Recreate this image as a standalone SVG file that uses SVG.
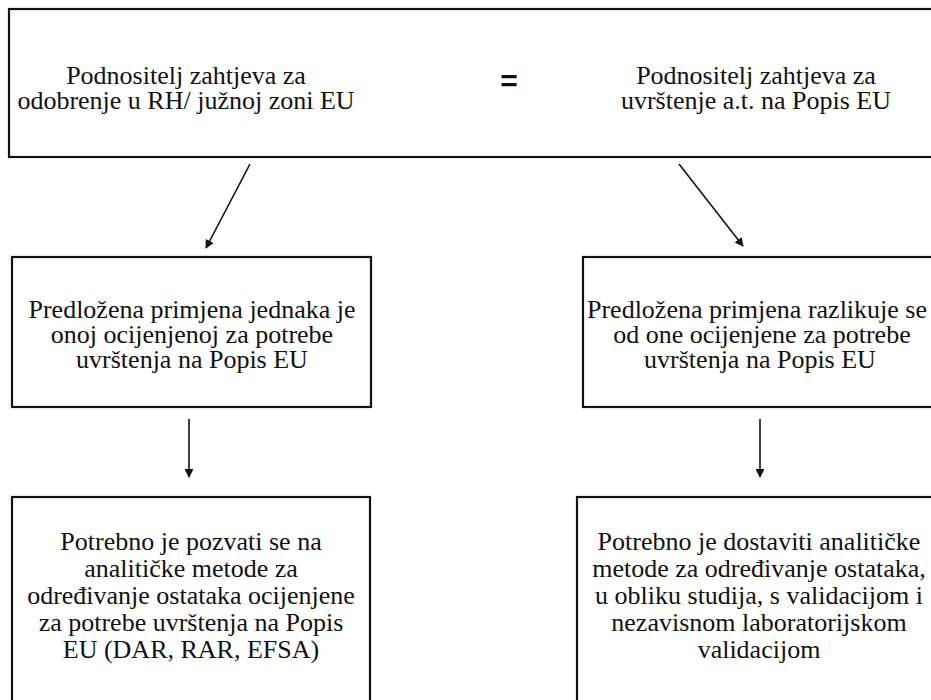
<svg xmlns="http://www.w3.org/2000/svg" width="931" height="700" viewBox="0 0 931 700">
<style>
.box{fill:#fff;stroke:#111;stroke-width:2.2}
.t{font-family:"Liberation Serif","Times New Roman",serif;font-size:26px;fill:#111;text-anchor:middle}
.eq{font-family:"Liberation Sans",Arial,sans-serif;font-size:30px;font-weight:bold;fill:#111;text-anchor:middle}
.c{stroke:#111;stroke-width:1.6;fill:none;marker-end:url(#ah)}
</style>
<defs>
<marker id="ah" viewBox="0 0 10 10" refX="9" refY="5" markerWidth="5.5" markerHeight="5.5" orient="auto" markerUnits="strokeWidth">
<path d="M0,0 L10,5 L0,10 z" fill="#111"/>
</marker>
</defs>
<rect width="931" height="700" fill="#fff"/>
<g id="top">
<rect class="box" x="9" y="9" width="940" height="148"/>
<text class="t" x="186" y="84">Podnositelj zahtjeva za</text>
<text class="t" x="186" y="109">odobrenje u RH/ južnoj zoni EU</text>
<text class="eq" x="509" y="91">=</text>
<text class="t" x="756" y="84">Podnositelj zahtjeva za</text>
<text class="t" x="756" y="109">uvrštenje a.t. na Popis EU</text>
</g>
<g id="mid-left">
<rect class="box" x="12" y="257" width="359" height="150"/>
<text class="t" x="192" y="318">Predložena primjena jednaka je</text>
<text class="t" x="192" y="343">onoj ocijenjenoj za potrebe</text>
<text class="t" x="192" y="368">uvrštenja na Popis EU</text>
</g>
<g id="mid-right">
<rect class="box" x="583" y="257" width="360" height="150"/>
<text class="t" x="757" y="318">Predložena primjena razlikuje se</text>
<text class="t" x="762" y="343">od one ocijenjene za potrebe</text>
<text class="t" x="760" y="368">uvrštenja na Popis EU</text>
</g>
<g id="bottom-left">
<rect class="box" x="12" y="497" width="358" height="220"/>
<text class="t" x="191" y="550">Potrebno je pozvati se na</text>
<text class="t" x="191" y="577">analitičke metode za</text>
<text class="t" x="191" y="604">određivanje ostataka ocijenjene</text>
<text class="t" x="191" y="631">za potrebe uvrštenja na Popis</text>
<text class="t" x="191" y="658">EU (DAR, RAR, EFSA)</text>
</g>
<g id="bottom-right">
<rect class="box" x="577" y="497" width="370" height="220"/>
<text class="t" x="759" y="550">Potrebno je dostaviti analitičke</text>
<text class="t" x="759" y="577">metode za određivanje ostataka,</text>
<text class="t" x="759" y="604">u obliku studija, s validacijom i</text>
<text class="t" x="759" y="631">nezavisnom laboratorijskom</text>
<text class="t" x="759" y="658">validacijom</text>
</g>
<g id="connectors">
<line class="c" x1="250" y1="164" x2="206" y2="248"/>
<line class="c" x1="679" y1="164" x2="743" y2="246"/>
<line class="c" x1="189" y1="419" x2="189" y2="477"/>
<line class="c" x1="760" y1="419" x2="760" y2="477"/>
</g>
</svg>
